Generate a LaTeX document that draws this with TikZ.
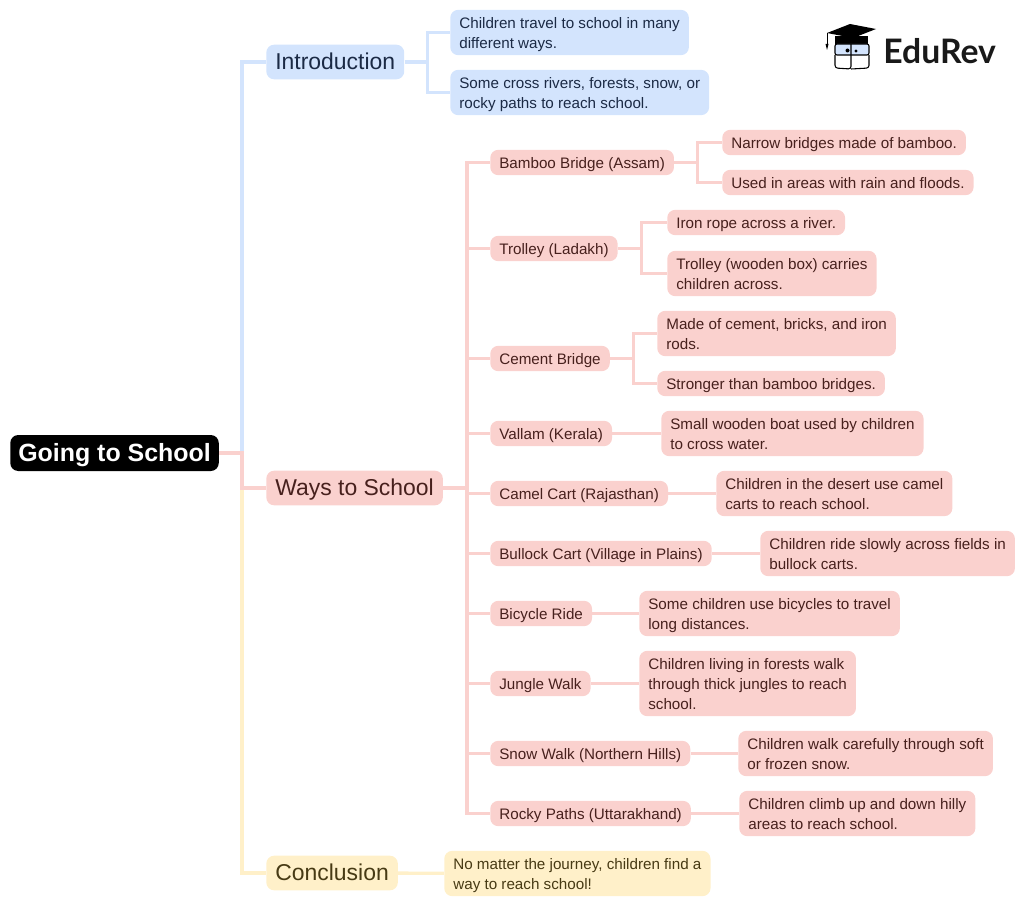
\documentclass[tikz,border=0pt]{standalone}
\usepackage{fontspec}
\setmainfont{Liberation Sans}
\newfontfamily\logofont{Lato}
\definecolor{bluefill}{HTML}{D3E4FD}
\definecolor{pinkfill}{HTML}{FAD1CE}
\definecolor{yellowfill}{HTML}{FFF0C9}
\definecolor{bluetext}{HTML}{1B2A45}
\definecolor{pinktext}{HTML}{47201D}
\definecolor{yellowtext}{HTML}{473A14}
\newcommand{\st}{\rule[-.22\baselineskip]{0pt}{\baselineskip}}
\tikzset{
    box/.style={anchor=west, rounded corners=6pt, inner xsep=6.8pt, inner ysep=0pt, align=left},
    leaf/.style={box, font=\fontsize{11.4}{15}\selectfont, inner ysep=2pt},
    branch/.style={box, font=\fontsize{17.2}{20}\selectfont, minimum height=26pt},
    blueleaf/.style={leaf, fill=bluefill, text=bluetext},
    pinkleaf/.style={leaf, fill=pinkfill, text=pinktext},
    yellowleaf/.style={leaf, fill=yellowfill, text=yellowtext},
    bluelink/.style={draw=bluefill, line width=2.5pt},
    pinklink/.style={draw=pinkfill, line width=2.5pt},
    yellowlink/.style={draw=yellowfill, line width=2.5pt}
}
\begin{document}
\begin{tikzpicture}[x=0.75pt, y=-0.75pt]

    \useasboundingbox (0, 0) rectangle (1024, 906);

    \node[box, fill=black, text=white, font=\bfseries\fontsize{18.7}{22}\selectfont, minimum height=27pt, inner xsep=6pt] (root) at (10, 453) {\st Going to School};

    \node[branch, fill=bluefill, text=bluetext] (intro) at (266, 62) {\st Introduction};
    \node[branch, fill=pinkfill, text=pinktext] (ways) at (266, 488) {\st Ways to School};
    \node[branch, fill=yellowfill, text=yellowtext] (concl) at (266, 873) {\st Conclusion};

    \node[blueleaf] (introa) at (450, 32.5) {\st Children travel to school in many\\different ways.\st};
    \node[blueleaf] (introb) at (450, 92.5) {\st Some cross rivers, forests, snow, or\\rocky paths to reach school.\st};

    \node[pinkleaf] (bamboo) at (490, 162.5) {\st Bamboo Bridge (Assam)};
    \node[pinkleaf] (trolley) at (490, 248.5) {\st Trolley (Ladakh)};
    \node[pinkleaf] (cement) at (490, 358.5) {\st Cement Bridge};
    \node[pinkleaf] (vallam) at (490, 433.5) {\st Vallam (Kerala)};
    \node[pinkleaf] (camel) at (490, 493.5) {\st Camel Cart (Rajasthan)};
    \node[pinkleaf] (bullock) at (490, 553.5) {\st Bullock Cart (Village in Plains)};
    \node[pinkleaf] (bicycle) at (490, 613.5) {\st Bicycle Ride};
    \node[pinkleaf] (jungle) at (490, 683.5) {\st Jungle Walk};
    \node[pinkleaf] (snow) at (490, 753.5) {\st Snow Walk (Northern Hills)};
    \node[pinkleaf] (rocky) at (490, 813.5) {\st Rocky Paths (Uttarakhand)};

    \node[pinkleaf] (bambooa) at (722, 142.5) {\st Narrow bridges made of bamboo.};
    \node[pinkleaf] (bamboob) at (722, 182.5) {\st Used in areas with rain and floods.};
    \node[pinkleaf] (trolleya) at (667, 222.5) {\st Iron rope across a river.};
    \node[pinkleaf] (trolleyb) at (667, 273.5) {\st Trolley (wooden box) carries\\children across.\st};
    \node[pinkleaf] (cementa) at (657, 333.5) {\st Made of cement, bricks, and iron\\rods.\st};
    \node[pinkleaf] (cementb) at (657, 383.5) {\st Stronger than bamboo bridges.};
    \node[pinkleaf] (vallama) at (661, 433.5) {\st Small wooden boat used by children\\to cross water.\st};
    \node[pinkleaf] (camela) at (716, 493.5) {\st Children in the desert use camel\\carts to reach school.\st};
    \node[pinkleaf] (bullocka) at (760, 553.5) {\st Children ride slowly across fields in\\bullock carts.\st};
    \node[pinkleaf] (bicyclea) at (639, 613.5) {\st Some children use bicycles to travel\\long distances.\st};
    \node[pinkleaf] (junglea) at (639, 683.5) {\st Children living in forests walk\\through thick jungles to reach\\school.\st};
    \node[pinkleaf] (snowa) at (738, 753.5) {\st Children walk carefully through soft\\or frozen snow.\st};
    \node[pinkleaf] (rockya) at (739, 813.5) {\st Children climb up and down hilly\\areas to reach school.\st};
    \node[yellowleaf] (concla) at (444, 873.5) {\st No matter the journey, children find a\\way to reach school!\st};

    \foreach \A/\B in {intro/introa, intro/introb}
        \draw[bluelink] (\A.east) -- ++(23, 0) |- (\B.west);
    \draw[bluelink] (root.east) -- ++(23, 0) |- (intro.west);
    \draw[yellowlink] (root.east) -- ++(23, 0) |- (concl.west);
    \draw[yellowlink] (concl) -- (concla);
    \draw[pinklink] (root.east) -- ++(23, 0) |- (ways.west);

    \foreach \B in {bamboo, trolley, cement, vallam, camel, bullock, bicycle, jungle, snow, rocky}
        \draw[pinklink] (ways.east) -- ++(24, 0) |- (\B.west);

    \foreach \A/\B in {bamboo/bambooa, bamboo/bamboob, trolley/trolleya, trolley/trolleyb, cement/cementa, cement/cementb}
        \draw[pinklink] (\A.east) -- ++(23.5, 0) |- (\B.west);

    \foreach \A/\B in {vallam/vallama, camel/camela, bullock/bullocka, bicycle/bicyclea, jungle/junglea, snow/snowa, rocky/rockya}
        \draw[pinklink] (\A) -- (\B);

    \fill[black] (827, 33) -- (850, 24) -- (876, 29) -- (853, 38) -- cycle;
    \fill[black] (835, 36) -- (868, 36) -- (868, 44) -- (835, 44) -- cycle;
    \draw[black, line width=0.6pt] (827, 33) -- (827, 45);
    \fill[black] (825.5, 44) -- (828.5, 44) -- (827, 50) -- cycle;
    \draw[black, fill=bluefill, line width=0.8pt, rounded corners=1.5pt] (835, 44) rectangle (869, 55);
    \draw[black, line width=0.8pt, rounded corners=2pt] (835, 55) -- (835, 68) -- (851, 69) -- (851, 44) (851, 69) -- (869, 68) -- (869, 55);
    \fill[black] (847.5, 50.5) circle (2) (856, 51) circle (1.7);

    \node[anchor=west, inner sep=0pt, font=\logofont\bfseries\fontsize{25.3}{28}\selectfont, text=black!90] (logo) at (883, 51) {EduRev};

\end{tikzpicture}
\end{document}
